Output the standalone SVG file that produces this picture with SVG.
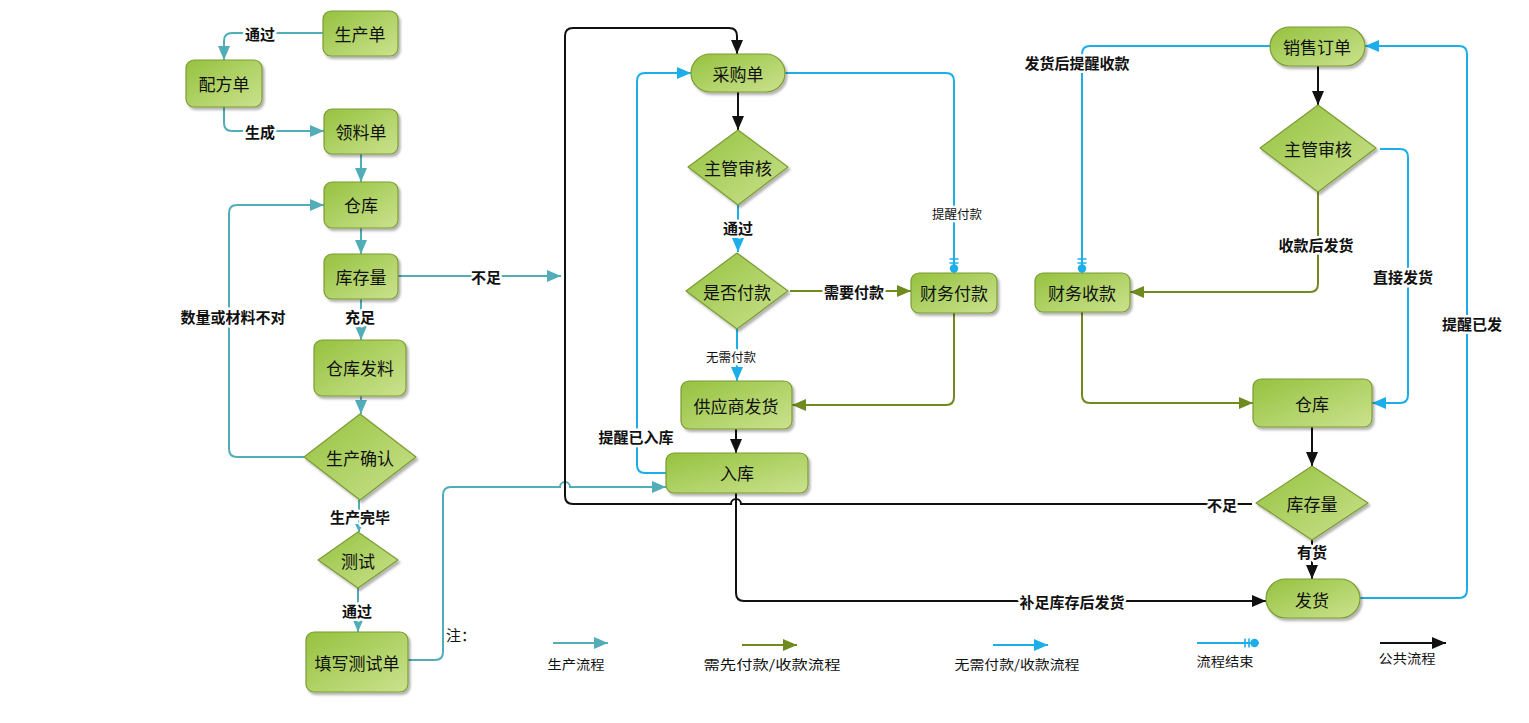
<svg xmlns="http://www.w3.org/2000/svg" width="1529" height="723" viewBox="0 0 1529 723">
<style>
.n{fill:url(#g);stroke:#7c9c32;stroke-width:1.2;filter:url(#sh)}
.t{font-family:"Noto Sans CJK SC","Noto Sans",sans-serif;font-size:17px;fill:#111;text-anchor:middle;dominant-baseline:central}
.c{fill:none;stroke-width:2}
.teal{stroke:#52adb9}
.blue{stroke:#1caee8}
.olive{stroke:#6f8b1e}
.black{stroke:#111}
.l{font-family:"Noto Sans CJK SC","Noto Sans",sans-serif;font-size:15px;font-weight:bold;fill:#111;text-anchor:middle;dominant-baseline:central;stroke:#fff;stroke-width:5;paint-order:stroke;stroke-linejoin:round}
.s{font-family:"Noto Sans CJK SC","Noto Sans",sans-serif;font-size:12.5px;fill:#111;text-anchor:middle;dominant-baseline:central;stroke:#fff;stroke-width:5;paint-order:stroke;stroke-linejoin:round}
.lg{font-family:"Noto Sans CJK SC","Noto Sans",sans-serif;font-size:13px;fill:#111;text-anchor:middle;dominant-baseline:central}
</style>
<defs>
<linearGradient id="g" x1="0" y1="0" x2="1" y2="1">
<stop offset="0" stop-color="#95c23f"/>
<stop offset="1" stop-color="#cbe28e"/>
</linearGradient>
<filter id="sh" x="-20%" y="-20%" width="140%" height="150%">
<feDropShadow dx="2" dy="2.5" stdDeviation="1.3" flood-color="#000" flood-opacity="0.3"/>
</filter>
<marker id="aT" markerUnits="userSpaceOnUse" viewBox="0 0 14 12" refX="14" refY="6" markerWidth="14" markerHeight="12" orient="auto"><path d="M0,0 L14,6 L0,12 Z" fill="#52adb9"/></marker>
<marker id="aB" markerUnits="userSpaceOnUse" viewBox="0 0 14 12" refX="14" refY="6" markerWidth="14" markerHeight="12" orient="auto"><path d="M0,0 L14,6 L0,12 Z" fill="#1caee8"/></marker>
<marker id="aO" markerUnits="userSpaceOnUse" viewBox="0 0 14 12" refX="14" refY="6" markerWidth="14" markerHeight="12" orient="auto"><path d="M0,0 L14,6 L0,12 Z" fill="#6f8b1e"/></marker>
<marker id="aK" markerUnits="userSpaceOnUse" viewBox="0 0 14 12" refX="14" refY="6" markerWidth="14" markerHeight="12" orient="auto"><path d="M0,0 L14,6 L0,12 Z" fill="#111"/></marker>
<marker id="aTs" markerUnits="userSpaceOnUse" viewBox="0 0 8 8" refX="8" refY="4" markerWidth="8" markerHeight="8" orient="auto"><path d="M0,0 L8,4 L0,8 Z" fill="#52adb9"/></marker>
<marker id="eB" markerUnits="userSpaceOnUse" viewBox="0 -6 20 12" refX="20" refY="0" markerWidth="20" markerHeight="12" orient="auto"><path d="M6,-4.5 V4.5 M10,-4.5 V4.5" stroke="#1caee8" stroke-width="1.6" fill="none"/><circle cx="15.5" cy="0" r="4.2" fill="#1caee8"/></marker>
</defs>

<g id="connectors">
<path class="c teal" marker-end="url(#aT)" d="M323,33 H232 Q224,33 224,41 V60"/>
<path class="c teal" marker-end="url(#aT)" d="M224,107 V123 Q224,131 232,131 H324"/>
<path class="c teal" marker-end="url(#aT)" d="M361,154 V182"/>
<path class="c teal" marker-end="url(#aT)" d="M361,228 V254"/>
<path class="c teal" marker-end="url(#aT)" d="M361,299 V340"/>
<path class="c teal" marker-end="url(#aT)" d="M361,396 V414"/>
<path class="c teal" marker-end="url(#aT)" d="M305,457 H237 Q229,457 229,449 V213 Q229,205 237,205 H324"/>
<path class="c teal" marker-end="url(#aTs)" d="M359,500 V532"/>
<path class="c teal" marker-end="url(#aT)" d="M358,588 V632"/>
<path class="c teal" marker-end="url(#aT)" d="M398,276 H561"/>
<path class="c teal" marker-end="url(#aT)" d="M408,660 H435 Q443,660 443,652 V495 Q443,487 451,487 H560 A5,5 0 0 1 570,487 H666"/>

<path class="c black" marker-end="url(#aK)" d="M738,92 V130"/>
<path class="c black" marker-end="url(#aK)" d="M736,429 V453"/>
<path class="c black" marker-end="url(#aK)" d="M1252,504 H741 A5,5 0 0 0 731,504 H573 Q565,504 565,496 V36 Q565,28 573,28 H729 Q737,28 737,36 V54"/>
<path class="c black" marker-end="url(#aK)" d="M736,493 V593 Q736,601 744,601 H1266"/>
<path class="c black" marker-end="url(#aK)" d="M1318,66 V105"/>
<path class="c black" marker-end="url(#aK)" d="M1312,427 V466"/>
<path class="c black" marker-end="url(#aK)" d="M1312,540 V579"/>

<path class="c blue" marker-end="url(#aB)" d="M738,205 V252"/>
<path class="c blue" marker-end="url(#aB)" d="M737,329 V381"/>
<path class="c blue" marker-end="url(#eB)" d="M785,73 H946 Q954,73 954,81 V273"/>
<path class="c blue" marker-end="url(#aB)" d="M666,473 H645 Q637,473 637,465 V81 Q637,73 645,73 H691"/>
<path class="c blue" marker-end="url(#aB)" d="M1380,149 H1400 Q1408,149 1408,157 V395 Q1408,403 1400,403 H1372"/>
<path class="c blue" marker-end="url(#eB)" d="M1270,46 H1090 Q1082,46 1082,54 V273"/>
<path class="c blue" marker-end="url(#aB)" d="M1360,598 H1459 Q1467,598 1467,590 V54 Q1467,46 1459,46 H1365"/>

<path class="c olive" marker-end="url(#aO)" d="M790,291 H911"/>
<path class="c olive" marker-end="url(#aO)" d="M954,313 V397 Q954,405 946,405 H792"/>
<path class="c olive" marker-end="url(#aO)" d="M1318,192 V284 Q1318,292 1310,292 H1130"/>
<path class="c olive" marker-end="url(#aO)" d="M1082,312 V395 Q1082,403 1090,403 H1253"/>

<text class="l" x="260" y="33">通过</text>
<text class="l" x="260" y="131">生成</text>
<text class="l" x="360" y="316">充足</text>
<text class="l" x="233" y="316">数量或材料不对</text>
<text class="l" x="360" y="516">生产完毕</text>
<text class="l" x="357" y="610">通过</text>
<text class="l" x="486" y="276">不足</text>
<text class="l" x="738" y="227">通过</text>
<text class="s" x="731" y="356">无需付款</text>
<text class="l" x="854" y="291">需要付款</text>
<text class="s" x="957" y="213">提醒付款</text>
<text class="l" x="636" y="436">提醒已入库</text>
<text class="l" x="1222" y="504">不足</text>
<text class="l" x="1072" y="601">补足库存后发货</text>
<text class="l" x="1077" y="62">发货后提醒收款</text>
<text class="l" x="1316" y="244">收款后发货</text>
<text class="l" x="1403" y="276">直接发货</text>
<text class="l" x="1312" y="551">有货</text>
<text class="l" x="1472" y="323">提醒已发</text>
<text class="l" x="461" y="634" style="font-weight:normal">注：</text>
</g>

<g id="n-shengchandan"><rect class="n" x="323" y="11" width="75" height="45" rx="8"/><text class="t" x="360" y="33">生产单</text></g>
<g id="n-peifangdan"><rect class="n" x="186" y="60" width="76" height="47" rx="8"/><text class="t" x="224" y="83">配方单</text></g>
<g id="n-lingliaodan"><rect class="n" x="324" y="109" width="74" height="45" rx="8"/><text class="t" x="361" y="131">领料单</text></g>
<g id="n-cangku1"><rect class="n" x="324" y="182" width="74" height="46" rx="8"/><text class="t" x="361" y="204">仓库</text></g>
<g id="n-kucunliang1"><rect class="n" x="324" y="254" width="74" height="45" rx="8"/><text class="t" x="361" y="276">库存量</text></g>
<g id="n-cangkufaliao"><rect class="n" x="314" y="340" width="92" height="56" rx="8"/><text class="t" x="360" y="367">仓库发料</text></g>
<g id="n-shengchanqueren"><path class="n" d="M360,414 L416,457 L360,500 L304,457 Z" stroke-linejoin="round"/><text class="t" x="360" y="457">生产确认</text></g>
<g id="n-ceshi"><path class="n" d="M358,532 L398,560 L358,588 L318,560 Z" stroke-linejoin="round"/><text class="t" x="358" y="560">测试</text></g>
<g id="n-tianxie"><rect class="n" x="306" y="632" width="102" height="60" rx="8"/><text class="t" x="357" y="662">填写测试单</text></g>

<g id="n-caigoudan"><rect class="n" x="691" y="54" width="94" height="38" rx="19"/><text class="t" x="738" y="73">采购单</text></g>
<g id="n-zhuguan1"><path class="n" d="M738,130 L788,167 L738,205 L688,167 Z" stroke-linejoin="round"/><text class="t" x="738" y="167">主管审核</text></g>
<g id="n-shifoufukuan"><path class="n" d="M737,253 L788,291 L737,329 L686,291 Z" stroke-linejoin="round"/><text class="t" x="737" y="291">是否付款</text></g>
<g id="n-caiwufukuan"><rect class="n" x="911" y="273" width="86" height="40" rx="8"/><text class="t" x="954" y="292">财务付款</text></g>
<g id="n-gongyingshang"><rect class="n" x="681" y="381" width="111" height="48" rx="8"/><text class="t" x="736" y="405">供应商发货</text></g>
<g id="n-ruku"><rect class="n" x="666" y="453" width="142" height="40" rx="8"/><text class="t" x="737" y="472">入库</text></g>

<g id="n-xiaoshou"><rect class="n" x="1270" y="27" width="95" height="39" rx="19.5"/><text class="t" x="1317" y="46">销售订单</text></g>
<g id="n-zhuguan2"><path class="n" d="M1318,105 L1376,148 L1318,192 L1260,148 Z" stroke-linejoin="round"/><text class="t" x="1318" y="148">主管审核</text></g>
<g id="n-caiwushoukuan"><rect class="n" x="1035" y="273" width="95" height="39" rx="8"/><text class="t" x="1082" y="292">财务收款</text></g>
<g id="n-cangku2"><rect class="n" x="1253" y="379" width="119" height="48" rx="8"/><text class="t" x="1312" y="403">仓库</text></g>
<g id="n-kucunliang2"><path class="n" d="M1312,466 L1368,503 L1312,540 L1256,503 Z" stroke-linejoin="round"/><text class="t" x="1312" y="503">库存量</text></g>
<g id="n-fahuo"><rect class="n" x="1266" y="579" width="94" height="39" rx="19.5"/><text class="t" x="1312" y="599">发货</text></g>

<g id="legend">
<path class="c teal" marker-end="url(#aT)" d="M553,643 H608"/>
<path class="c olive" marker-end="url(#aO)" d="M742,645 H797"/>
<path class="c blue" marker-end="url(#aB)" d="M993,645 H1048"/>
<path class="c blue" marker-end="url(#eB)" d="M1197,643 H1259"/>
<path class="c black" marker-end="url(#aK)" d="M1380,643 H1446"/>
<text class="lg" x="576" y="663" textLength="57" lengthAdjust="spacingAndGlyphs">生产流程</text>
<text class="lg" x="772" y="663" textLength="137" lengthAdjust="spacingAndGlyphs">需先付款/收款流程</text>
<text class="lg" x="1017" y="663" textLength="125" lengthAdjust="spacingAndGlyphs">无需付款/收款流程</text>
<text class="lg" x="1225" y="660" textLength="57" lengthAdjust="spacingAndGlyphs">流程结束</text>
<text class="lg" x="1407" y="657" textLength="57" lengthAdjust="spacingAndGlyphs">公共流程</text>
</g>
</svg>
